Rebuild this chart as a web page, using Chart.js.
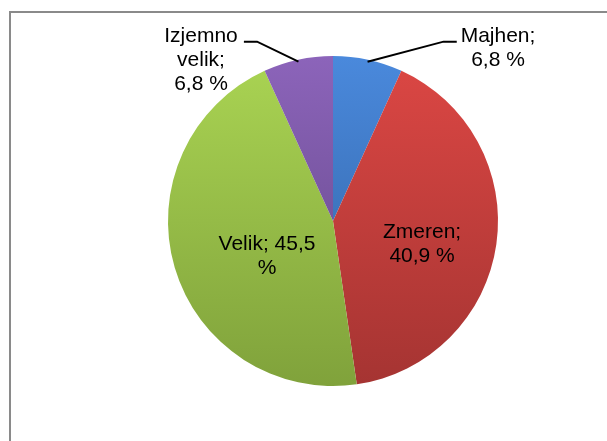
<!DOCTYPE html>
<html>
<head>
<meta charset="utf-8">
<script src="https://cdn.jsdelivr.net/npm/chart.js@4/dist/chart.umd.min.js"></script>
<style>
  html, body { margin: 0; padding: 0; background: #fff; }
  #wrap { width: 607px; height: 441px; }
</style>
</head>
<body>
<div id="wrap"><canvas id="pie"></canvas></div>
<script>
/* =========================
    DATA
========================= */

const categories = ["Majhen", "Zmeren", "Velik", "Izjemno velik"];
const shares = [6.8, 40.9, 45.5, 6.8];

// label texts as in the picture (wrapped lines)
const labelLines = [
  ["Majhen;", "6,8 %"],
  ["Zmeren;", "40,9 %"],
  ["Velik; 45,5", "%"],
  ["Izjemno", "velik;", "6,8 %"]
];

/* =========================
    STYLE
========================= */

// gradient top / bottom per slice
const topColors = ["#4a89dc", "#dc4744", "#aad453", "#8c64ba"];
const bottomColors = ["#2f5f9e", "#a53432", "#80a23b", "#5f4483"];

// label placement, relative to the pie (units of radius)
// inside: [dx, dy]; outside: text anchor + elbow
const labelPlace = [
  { out: true, tx: 1.0, ty: -1.087, elbow: [0.67, -1.087], end: [0.75, -1.087] },
  { out: false, tx: 0.54, ty: 0.135 },
  { out: false, tx: -0.40, ty: 0.205 },
  { out: true, tx: -0.80, ty: -1.087, elbow: [-0.46, -1.087], end: [-0.54, -1.087] }
];

const FONT = '21px "Liberation Sans", Arial, sans-serif';
const LINE_H = 24;

function sliceGradient(ctx) {
  const chart = ctx.chart;
  const area = chart.chartArea;
  if (!area) return topColors[ctx.dataIndex];
  const g = chart.ctx.createLinearGradient(0, area.top, 0, area.bottom);
  g.addColorStop(0, topColors[ctx.dataIndex]);
  g.addColorStop(1, bottomColors[ctx.dataIndex]);
  return g;
}

/* =========================
    PLUGINS
========================= */

// grey frame round the chart (right / bottom edges lie outside the picture)
const framePlugin = {
  id: "frame",
  beforeDraw(chart) {
    const c = chart.ctx;
    c.save();
    c.strokeStyle = "#8a8a8a";
    c.lineWidth = 2;
    c.strokeRect(10, 12, 700, 500);
    c.restore();
  }
};

// data labels with leader lines for the small slices
const labelPlugin = {
  id: "sliceLabels",
  afterDatasetsDraw(chart) {
    const c = chart.ctx;
    const arcs = chart.getDatasetMeta(0).data;
    c.save();
    c.font = FONT;
    c.fillStyle = "#000";
    c.textAlign = "center";
    c.textBaseline = "alphabetic";

    arcs.forEach((arc, i) => {
      const p = labelPlace[i];
      const r = arc.outerRadius;
      const lines = labelLines[i];
      const tx = arc.x + p.tx * r;
      const ty = arc.y + p.ty * r;

      if (p.out) {
        // leader line: slice middle on the rim -> elbow -> end near text
        const mid = (arc.startAngle + arc.endAngle) / 2;
        const rx = arc.x + Math.cos(mid) * (r - 2);
        const ry = arc.y + Math.sin(mid) * (r - 2);
        c.beginPath();
        c.strokeStyle = "#000";
        c.lineWidth = 2;
        c.moveTo(rx, ry);
        c.lineTo(arc.x + p.elbow[0] * r, arc.y + p.elbow[1] * r);
        c.lineTo(arc.x + p.end[0] * r, arc.y + p.end[1] * r);
        c.stroke();
        lines.forEach((t, k) => c.fillText(t, tx, ty + k * LINE_H));
      } else {
        const y0 = ty - ((lines.length - 1) * LINE_H) / 2 + 7;
        lines.forEach((t, k) => c.fillText(t, tx, y0 + k * LINE_H));
      }
    });
    c.restore();
  }
};

/* =========================
    CHART
========================= */

new Chart(document.getElementById("pie"), {
  type: "pie",
  data: {
    labels: categories,
    datasets: [{
      data: shares,
      backgroundColor: sliceGradient,
      borderWidth: 0
    }]
  },
  options: {
    responsive: true,
    maintainAspectRatio: false,
    animation: false,
    layout: {
      padding: { top: 56, bottom: 55, left: 168, right: 109 }
    },
    plugins: {
      legend: { display: false },
      tooltip: { enabled: false }
    }
  },
  plugins: [framePlugin, labelPlugin]
});
</script>
</body>
</html>
